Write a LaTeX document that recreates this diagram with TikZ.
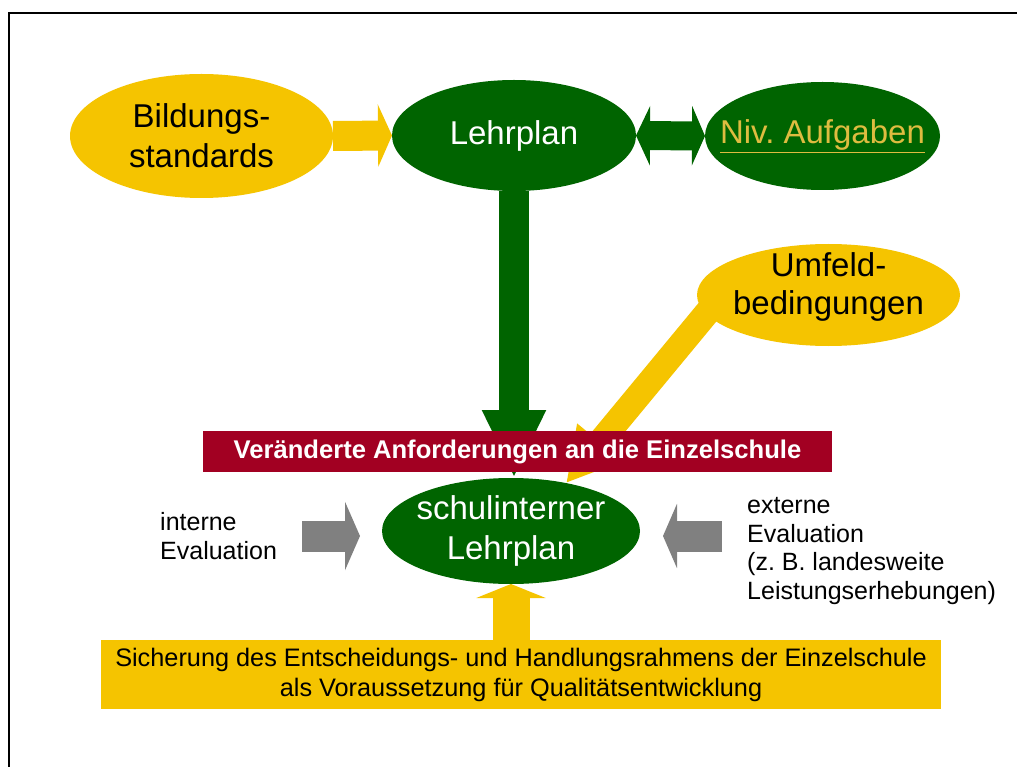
\documentclass[tikz,border=0pt]{standalone}
\usepackage{fontspec}
\setmainfont{Liberation Sans}
\usetikzlibrary{shapes.geometric,arrows.meta,backgrounds}

\definecolor{gold}{RGB}{245,196,0}
\definecolor{leafgreen}{RGB}{0,100,0}
\definecolor{wine}{RGB}{162,0,34}
\definecolor{slate}{RGB}{128,128,128}
\definecolor{linkgold}{RGB}{222,188,64}

\begin{document}
\begin{tikzpicture}[
    x=1pt, y=-1pt,
    oval/.style={
        ellipse,
        inner sep=-10pt,
        outer sep=0pt,
        align=center,
        font=\fontsize{33}{40}\selectfont
    },
    goldoval/.style={
        oval,
        fill=gold,
        text=black
    },
    greenoval/.style={
        oval,
        fill=leafgreen,
        text=white
    },
    banner/.style={
        fill=wine,
        text=white,
        minimum width=629pt,
        minimum height=41pt,
        font=\fontsize{25.6}{30}\selectfont\bfseries
    },
    basebox/.style={
        fill=gold,
        align=center,
        minimum width=840pt,
        minimum height=69pt,
        font=\fontsize{25.3}{30}\selectfont
    },
    sidetext/.style={
        align=left,
        inner sep=0pt,
        font=\fontsize{25}{28.5}\selectfont
    }
]

\useasboundingbox (0,0) rectangle (1017,767);

% frame
\draw[line width=2pt] (9,767) |- (1017,13);

% top row
\node[goldoval, minimum width=263pt, minimum height=124pt] (bild) at (201.5,136)
{Bildungs-\\standards};

\node[greenoval, minimum width=244pt, minimum height=111pt] (lehrplan) at (514,135.5)
{Lehrplan};

\node[greenoval, inner xsep=-35pt, minimum width=235pt, minimum height=108pt] (niv) at (822.5,136)
{\textcolor{linkgold}{\underline{Niv.\ Aufgaben}}};

\node[goldoval, minimum width=263pt, minimum height=102pt,
      label={[align=center, inner sep=0pt, yshift=8pt,
              font=\fontsize{33}{38}\selectfont]center:Umfeld-\\bedingungen}]
    (umfeld) at (828.5,295) {};

% middle
\node[banner] (anford) at (517.5,451.5)
{Veränderte Anforderungen an die Einzelschule};

\node[greenoval, minimum width=258pt, minimum height=106pt] (schul) at (511,531)
{schulinterner\\Lehrplan};

\node[sidetext, anchor=west] (intern) at (160,536)
{interne\\Evaluation};

\node[sidetext, anchor=west] (extern) at (747,551)
{externe\\Evaluation\\(z.\ B.\ landesweite\\Leistungserhebungen)};

% bottom
\node[basebox] (sicherung) at (521,674.5)
{Sicherung des Entscheidungs- und Handlungsrahmens der Einzelschule\\
als Voraussetzung für Qualitätsentwicklung};

\coordinate (umfeldfoot) at (725,291);

% Connections
\begin{scope}[on background layer]
\fill[white] (0,0) rectangle (1017,767);

\draw[gold, line width=30pt, -{Triangle[length=14pt,width=62pt]}]
    (bild.east) -- (lehrplan.west);

\draw[leafgreen, line width=29pt,
      {Triangle[length=14pt,width=59pt]}-{Triangle[length=13pt,width=59pt]}]
    (lehrplan.east) -- (niv.west);

\draw[leafgreen, line width=30pt, -{Triangle[length=68pt,width=59pt]}]
    (lehrplan.south) -- (lehrplan.south |- schul.north);

\draw[gold, line width=25.5pt, -{Triangle[length=53pt,width=55pt]}]
    (umfeldfoot) -- (schul.41);

\draw[slate, line width=31pt, shorten <=25pt, shorten >=22pt,
      -{Triangle[length=15pt,width=68pt]}]
    (intern.east) -- (intern.east -| schul.west);

\draw[slate, line width=31pt, shorten <=25pt, shorten >=23pt,
      -{Triangle[length=14pt,width=64pt]}]
    (extern.west |- intern.east) -- (intern.east -| schul.east);

\draw[gold, line width=37pt, -{Triangle[length=14pt,width=69pt]}]
    (schul.south |- sicherung.north) -- (schul.south);
\end{scope}

\end{tikzpicture}
\end{document}
